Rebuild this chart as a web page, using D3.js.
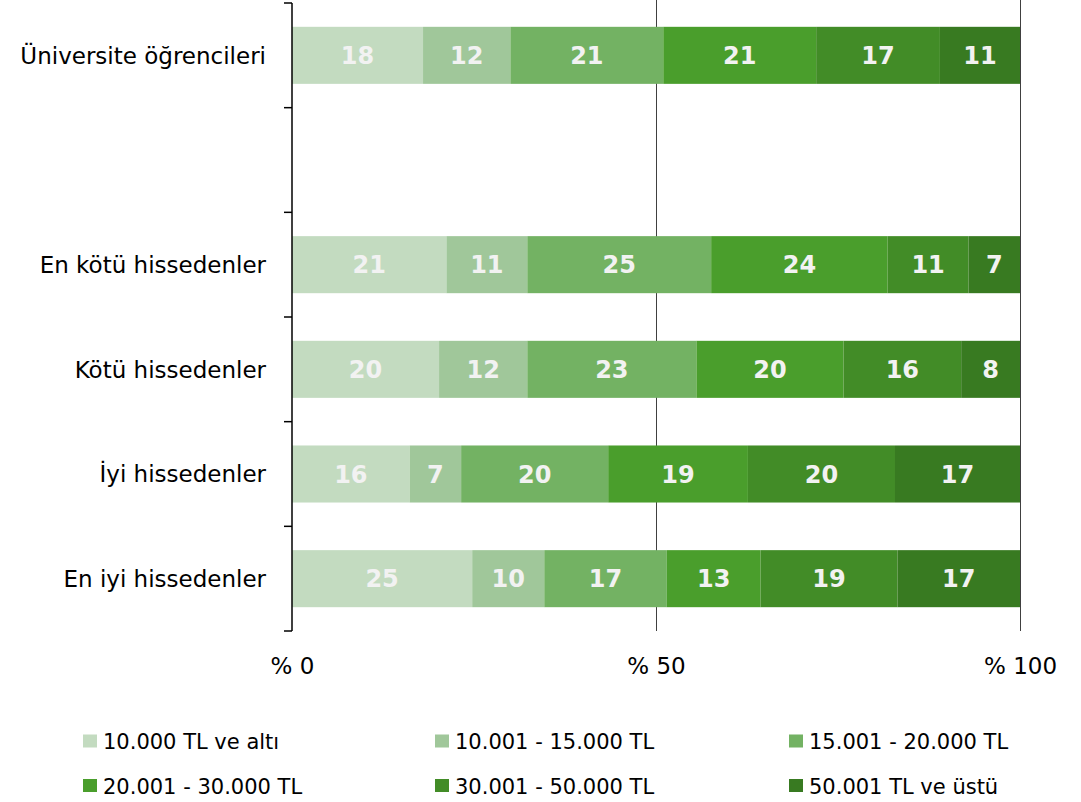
<!DOCTYPE html>
<html><head><meta charset="utf-8">
<script src="https://cdn.jsdelivr.net/npm/d3@7"></script>
<style>body{margin:0;background:#fff}svg{display:block}text{font-family:"DejaVu Sans",Verdana,sans-serif}</style>
</head><body>
<script>
const categories = ["Üniversite öğrencileri", " ", "En kötü hissedenler", "Kötü hissedenler", "İyi hissedenler", "En iyi hissedenler"];
const seriesNames = ["10.000 TL ve altı", "10.001 - 15.000 TL", "15.001 - 20.000 TL", "20.001 - 30.000 TL", "30.001 - 50.000 TL", "50.001 TL ve üstü"];
const s1 = [18, null, 21, 20, 16, 25];
const s2 = [12, null, 11, 12, 7, 10];
const s3 = [21, null, 25, 23, 20, 17];
const s4 = [21, null, 24, 20, 19, 13];
const s5 = [17, null, 11, 16, 20, 19];
const s6 = [11, null, 7, 8, 17, 17];
const tickValues = [0, 0.5, 1];
const tickLabels = ["% 0", "% 50", "% 100"];
const colors = ["#c3dbc0", "#a0c79a", "#73b263", "#4a9e2c", "#428c27", "#387a21"];

const series = [s1, s2, s3, s4, s5, s6];
const rows = categories.map((c, i) => {
  const o = {cat: c};
  seriesNames.forEach((s, j) => o[s] = series[j][i] == null ? 0 : series[j][i]);
  o.empty = series[0][i] == null;
  return o;
});

const W = 1081, H = 802;
const svg = d3.select("body").append("svg").attr("width", W).attr("height", H);
const x = d3.scaleLinear().domain([0, 1]).range([292, 1020]);
const y = d3.scaleBand().domain(categories).range([3, 631]).paddingInner(0.455).paddingOuter(0.2275);

const stack = d3.stack().keys(seriesNames).offset(d3.stackOffsetExpand);
const stacked = stack(rows.filter(r => !r.empty));

// gridlines
svg.append("g").selectAll("line").data([0.5, 1]).join("line")
  .attr("x1", d => Math.round(x(d)) + 0.5).attr("x2", d => Math.round(x(d)) + 0.5).attr("y1", 0).attr("y2", 631)
  .attr("stroke", "#404040").attr("stroke-width", 1);

const g = svg.append("g");
stacked.forEach((layer, j) => {
  const lg = g.append("g");
  lg.selectAll("rect").data(layer).join("rect")
    .attr("x", d => x(d[0])).attr("width", d => x(d[1]) - x(d[0]))
    .attr("y", d => y(d.data.cat)).attr("height", y.bandwidth())
    .attr("fill", colors[j]);
  lg.selectAll("text").data(layer).join("text")
    .attr("x", d => (x(d[0]) + x(d[1])) / 2)
    .attr("y", d => y(d.data.cat) + y.bandwidth() / 2)
    .attr("dy", "0.36em").attr("text-anchor", "middle")
    .attr("fill", "#f2f2f2").attr("font-weight", "bold").attr("font-size", "24px")
    .text(d => d.data[layer.key]);
});

// y axis
const boundaries = d3.range(categories.length + 1).map(i => 3 + i * (628 / categories.length));
svg.append("line").attr("x1", 292).attr("x2", 292).attr("y1", 3).attr("y2", 631)
  .attr("stroke", "#000").attr("stroke-width", 1.5);
svg.append("g").selectAll("line").data(boundaries).join("line")
  .attr("x1", 284).attr("x2", 292).attr("y1", d => d).attr("y2", d => d)
  .attr("stroke", "#000").attr("stroke-width", 1.5);
svg.append("g").selectAll("text").data(categories).join("text")
  .attr("x", 266).attr("y", d => y(d) + y.bandwidth() / 2).attr("dy", "0.36em")
  .attr("text-anchor", "end").attr("font-size", "23px").attr("fill", "#000")
  .text(d => d.trim());

// x axis labels
const xAxis = d3.axisBottom(x).tickValues(tickValues).tickSize(0).tickFormat((d, i) => tickLabels[i]);
const xg = svg.append("g").attr("transform", "translate(0,655)").call(xAxis);
xg.select(".domain").remove();
xg.selectAll("text").attr("font-size", "23px").attr("fill", "#000").attr("font-family", "DejaVu Sans Condensed, DejaVu Sans, sans-serif");

// legend
const legX = [83, 435, 789], legY = [741.5, 786];
const lg = svg.append("g").selectAll("g").data(seriesNames).join("g")
  .attr("transform", (d, i) => `translate(${legX[i % 3]},${legY[Math.floor(i / 3)]})`);
lg.append("rect").attr("x", 0).attr("y", -7).attr("width", 14).attr("height", 13).attr("fill", (d, i) => colors[i]);
lg.append("text").attr("x", 20).attr("dy", "0.36em").attr("font-size", "21px").attr("fill", "#000").text(d => d);
</script>
</body></html>
